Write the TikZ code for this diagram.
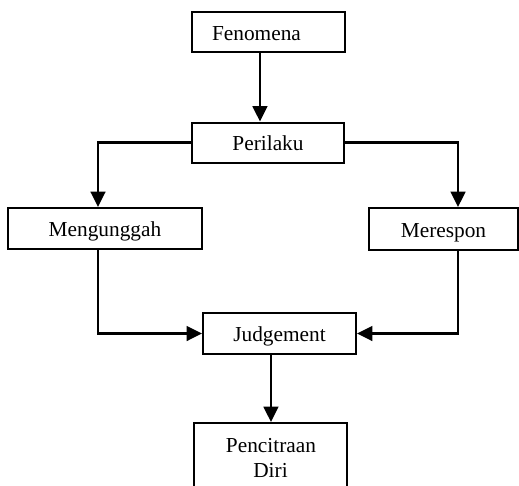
\documentclass[tikz,border=0pt]{standalone}
\usepackage{fontspec}
\setmainfont{Liberation Serif}
\usetikzlibrary{arrows.meta}
\begin{document}
\begin{tikzpicture}[x=0.75pt,y=-0.75pt,
  box/.style={draw, line width=1.5pt, inner sep=0pt, text height=12pt, text depth=0pt, font=\fontsize{16pt}{18.75pt}\selectfont},
  lbl/.style={inner sep=0pt, anchor=base, font=\fontsize{16pt}{18.75pt}\selectfont},
  arr/.style={line width=1.8pt, -{Triangle[width=11pt,length=11.5pt]}}]
\useasboundingbox (0,0) rectangle (519,486);
\clip (0,0) rectangle (519,486);
\node[box, minimum width=114.75pt, minimum height=30pt] (fen) at (268.5,32) {Fenomena\hspace*{18pt}};
\node[box, minimum width=114pt, minimum height=30pt] (per) at (268,142.5) {Perilaku};
\node[box, minimum width=145.5pt, minimum height=30.75pt] (men) at (105,228.5) {Mengunggah};
\node[box, minimum width=111.75pt, minimum height=31.5pt] (mer) at (443.5,229) {Merespon};
\node[box, minimum width=114.75pt, minimum height=30.75pt] (jud) at (279.5,333.5) {Judgement};
\node[box, minimum width=114.75pt, minimum height=57.75pt] (pen) at (270.5,461.5) {};
\node[lbl] (pc1) at (271,452) {Pencitraan};
\node[lbl] (pc2) at (270.5,477) {Diri};
\draw[arr] ([xshift=-6.4pt]fen.south) -- ([xshift=-6.4pt]fen.south |- per.north);
\draw[arr] (per.west) -| ([xshift=-5.25pt]men.north);
\draw[arr] (per.east) -| ([xshift=10.9pt]mer.north);
\draw[arr] ([xshift=-5.25pt]men.south) |- (jud.west);
\draw[arr] ([xshift=10.9pt]mer.south) |- (jud.east);
\draw[arr] ([xshift=-6.4pt]jud.south) -- ([xshift=-6.4pt]jud.south |- pen.north);
\end{tikzpicture}
\end{document}
